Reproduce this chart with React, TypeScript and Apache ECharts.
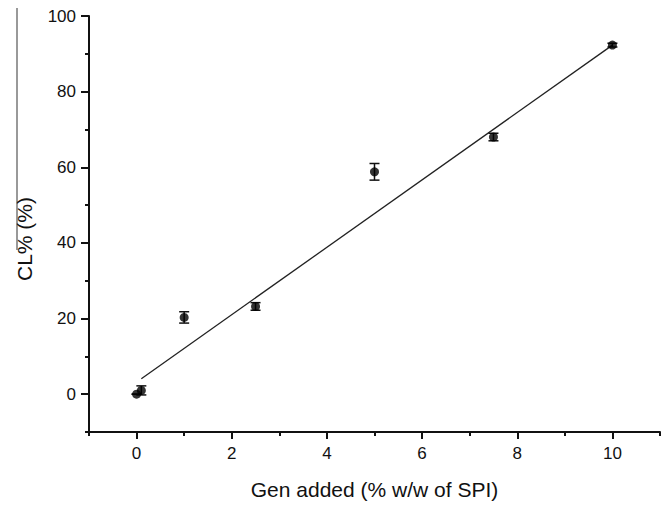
import React, { useEffect, useRef } from "react";
import * as echarts from "echarts";

const xValues = [0, 0.1, 1, 2.5, 5, 7.5, 10];
const yValues = [0, 1, 20.3, 23.2, 58.8, 68, 92.3];
const yErrors = [0, 1.2, 1.5, 1.0, 2.2, 1.0, 0.5];
const fitX = [0.1, 10];
const fitY = [4.1, 92.3];
const xTickLabels = [0, 2, 4, 6, 8, 10];
const yTickLabels = [0, 20, 40, 60, 80, 100];

const FONT = "'Liberation Sans', Arial, sans-serif";

export default function App() {
  const ref = useRef<HTMLDivElement>(null);
  useEffect(() => {
    document.body.style.margin = "0";
    const chart = echarts.init(ref.current!, null, { renderer: "svg" });
    const points = xValues.map((x, i) => [x, yValues[i]]);
    const errData = xValues.map((x, i) => [x, yValues[i] - yErrors[i], yValues[i] + yErrors[i]]);
    const fit = fitX.map((x, i) => [x, fitY[i]]);
    const tickStyle = { color: "#111", width: 2 };
    chart.setOption({
      animation: false,
      backgroundColor: "#fff",
      grid: { left: 89, top: 16, right: 10, bottom: 69, containLabel: false },
      xAxis: [
        {
          type: "value",
          min: -1,
          max: 11,
          interval: 1,
          position: "bottom",
          axisLine: { show: true, onZero: false, lineStyle: tickStyle },
          splitLine: { show: false },
          axisTick: { show: true, customValues: xTickLabels, length: 7, lineStyle: tickStyle },
          axisLabel: { customValues: xTickLabels, fontSize: 17, color: "#111", fontFamily: FONT, margin: 13 },
          name: "Gen added (% w/w of SPI)",
          nameLocation: "middle",
          nameGap: 47,
          nameTextStyle: { fontSize: 21, color: "#111", fontFamily: FONT },
        },
        {
          type: "value",
          min: -1,
          max: 11,
          interval: 1,
          position: "bottom",
          axisLine: { show: false, onZero: false },
          splitLine: { show: false },
          axisTick: { show: true, length: 4, lineStyle: tickStyle },
          axisLabel: { show: false },
        },
      ],
      yAxis: [
        {
          type: "value",
          min: -10,
          max: 100,
          interval: 10,
          position: "left",
          axisLine: { show: true, onZero: false, lineStyle: tickStyle },
          splitLine: { show: false },
          axisTick: { show: true, customValues: yTickLabels, length: 8, lineStyle: tickStyle },
          axisLabel: { customValues: yTickLabels, fontSize: 17, color: "#111", fontFamily: FONT, margin: 13 },
        },
        {
          type: "value",
          min: -10,
          max: 100,
          interval: 10,
          position: "left",
          axisLine: { show: false, onZero: false },
          splitLine: { show: false },
          axisTick: { show: true, length: 4, lineStyle: tickStyle },
          axisLabel: { show: false },
        },
      ],
      graphic: [
        {
          type: "line",
          shape: { x1: 17, y1: 8, x2: 17, y2: 250 },
          style: { stroke: "#999", lineWidth: 2 },
        },
        {
          type: "text",
          x: 24,
          y: 239,
          rotation: Math.PI / 2,
          style: {
            text: "CL% (%)",
            font: `21px ${FONT}`,
            fill: "#111",
            align: "center",
            verticalAlign: "middle",
          },
        },
      ],
      series: [
        {
          type: "line",
          data: fit,
          symbol: "none",
          lineStyle: { color: "#222", width: 1.3 },
          xAxisIndex: 0,
          yAxisIndex: 0,
          z: 2,
        },
        {
          type: "custom",
          data: errData,
          xAxisIndex: 0,
          yAxisIndex: 0,
          z: 3,
          renderItem: (params: any, api: any) => {
            const x = api.value(0);
            const lo = api.coord([x, api.value(1)]);
            const hi = api.coord([x, api.value(2)]);
            const w = 5;
            const style = { stroke: "#111", lineWidth: 1.5 };
            return {
              type: "group",
              children: [
                { type: "line", shape: { x1: lo[0], y1: lo[1], x2: hi[0], y2: hi[1] }, style },
                { type: "line", shape: { x1: lo[0] - w, y1: lo[1], x2: lo[0] + w, y2: lo[1] }, style },
                { type: "line", shape: { x1: hi[0] - w, y1: hi[1], x2: hi[0] + w, y2: hi[1] }, style },
              ],
            };
          },
        },
        {
          type: "scatter",
          data: points,
          symbol: "circle",
          symbolSize: 9,
          itemStyle: { color: "#000" },
          xAxisIndex: 0,
          yAxisIndex: 0,
          z: 4,
        },
      ],
    });
    return () => chart.dispose();
  }, []);
  return <div ref={ref} style={{ width: 670, height: 505 }} />;
}
